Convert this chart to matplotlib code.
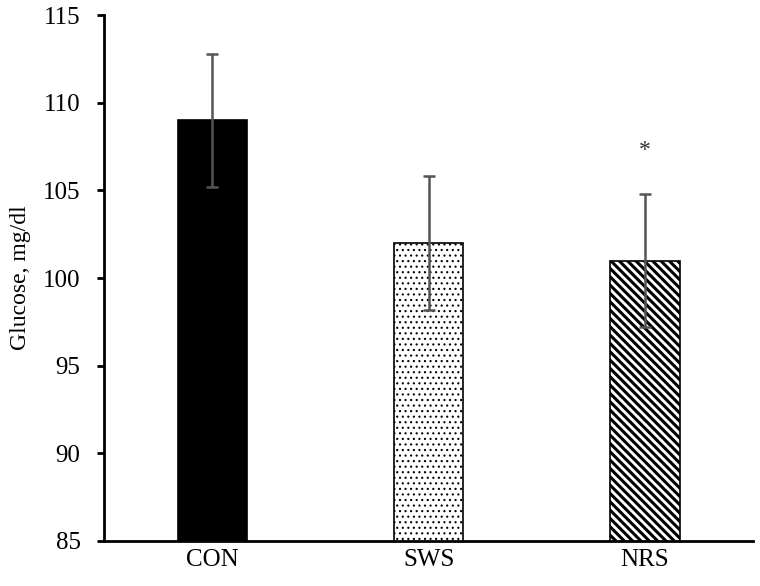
import matplotlib.pyplot as plt

# Data
groups = ['CON', 'SWS', 'NRS']
glucose = [109.0, 102.0, 101.0]
sem = [3.8, 3.8, 3.8]
hatches = ['', '...', '\\\\\\\\']
faces = ['black', 'white', 'white']

plt.rcParams['font.family'] = 'serif'
plt.rcParams['font.serif'] = ['Liberation Serif', 'Times New Roman', 'DejaVu Serif']

fig = plt.figure(figsize=(7.6, 5.86), dpi=100)
ax = fig.add_axes([0.137, 0.077, 0.854, 0.897])

x = range(len(groups))
bars = ax.bar(x, glucose, width=0.32, bottom=0, color=faces,
              edgecolor='black', linewidth=1.2, zorder=2)
for b, h in zip(bars, hatches):
    b.set_hatch(h)
    if hasattr(b, 'set_hatch_linewidth'):
        b.set_hatch_linewidth(2.2 if '\\' in h else 0.8)

ax.errorbar(x, glucose, yerr=sem, fmt='none', ecolor='#555555',
            elinewidth=1.8, capsize=4, capthick=1.8, zorder=3)

# significance marker
ax.text(2, 107.3, '*', ha='center', va='center', fontsize=17, color='#333333')

ax.set_ylim(85, 115)
ax.set_xlim(-0.5, 2.5)
ax.set_yticks([85, 90, 95, 100, 105, 110, 115])
ax.set_xticks(list(x))
ax.set_xticklabels(groups)
ax.set_ylabel('Glucose, mg/dl', fontsize=17, labelpad=9)
ax.tick_params(axis='y', labelsize=18, direction='out', length=5, width=2, pad=12)
ax.tick_params(axis='x', labelsize=18, length=0, pad=6)

for s in ['top', 'right']:
    ax.spines[s].set_visible(False)
ax.spines['left'].set_linewidth(2)
ax.spines['bottom'].set_linewidth(2)

plt.savefig('out.png', dpi=100)
